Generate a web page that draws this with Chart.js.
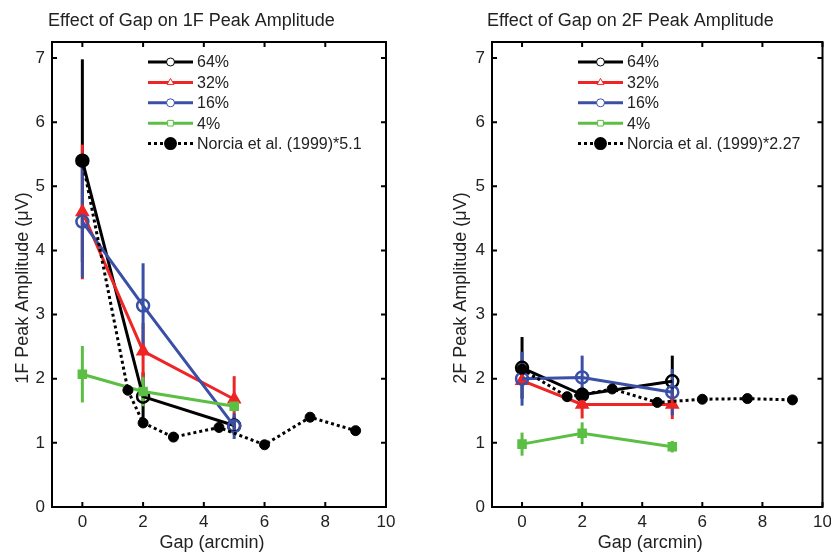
<!DOCTYPE html>
<html lang="en">
<head>
<meta charset="UTF-8">
<title>Effect of Gap on Peak Amplitude</title>
<script src="https://cdn.jsdelivr.net/npm/chart.js"></script>
<style>
  body { margin: 0; background: #fff; }
  .panel { position: absolute; top: 0; height: 553px; }
  #left { left: 0; width: 420px; }
  #right { left: 420px; width: 411px; }
</style>
</head>
<body>
<div class="panel" id="left"><canvas id="chart1F"></canvas></div>
<div class="panel" id="right"><canvas id="chart2F"></canvas></div>

<script>
// gap values (arcmin)
const gap = [0, 2, 5];
const norciaGap = [0, 1.5, 2, 3, 4.5, 6, 7.5, 9];
const xTicks = [0, 2, 4, 6, 8, 10];
const yTicks = [0, 1, 2, 3, 4, 5, 6, 7];
const seriesNames = ['64%', '32%', '16%', '4%'];

// 1F peak amplitude (uV) and error bar half-lengths
const amp1F_64 = [5.40, 1.72, 1.27];
const err1F_64 = [1.58, 0.38, 0.14];
const amp1F_32 = [4.60, 2.43, 1.68];
const err1F_32 = [1.05, 0.44, 0.36];
const amp1F_16 = [4.45, 3.14, 1.26];
const err1F_16 = [0.88, 0.66, 0.20];
const amp1F_4 = [2.07, 1.80, 1.57];
const err1F_4 = [0.44, 0.23, 0.08];
const norcia1F = [5.40, 1.82, 1.31, 1.09, 1.24, 0.97, 1.40, 1.19];

// 2F peak amplitude (uV)
const amp2F_64 = [2.17, 1.75, 1.96];
const err2F_64 = [0.48, 0.12, 0.40];
const amp2F_32 = [1.97, 1.60, 1.60];
const err2F_32 = [0.08, 0.22, 0.23];
const amp2F_16 = [2.00, 2.02, 1.79];
const err2F_16 = [0.42, 0.34, 0.36];
const amp2F_4 = [0.98, 1.15, 0.94];
const err2F_4 = [0.18, 0.17, 0.09];
const norcia2F = [2.15, 1.72, 1.75, 1.84, 1.63, 1.68, 1.69, 1.67];

const colors = ['#000000', '#ee2524', '#3a4fa6', '#5bbf43'];
const styles = ['circle', 'triangle', 'circle', 'rect'];
const FONT = 'Liberation Sans, Arial, sans-serif';
const TEXT = '#222';

function pts(xs, ys) { return xs.map((x, i) => ({x: x, y: ys[i]})); }

function makeSeries(amps, errs) {
  return amps.map((a, k) => ({
    label: seriesNames[k],
    data: pts(gap, a),
    errs: errs[k],
    borderColor: colors[k],
    backgroundColor: (styles[k] === 'circle') ? 'rgba(255,255,255,0)' : colors[k],
    borderWidth: 3,
    pointStyle: styles[k],
    pointRadius: styles[k] === 'rect' ? 5 : 6,
    pointBorderWidth: 2.5,
    order: 4 - k
  }));
}

// frame, inward ticks, error bars, legend, titles
const decor = {
  id: 'decor',
  beforeDatasetsDraw(chart) {
    const ctx = chart.ctx, xs = chart.scales.x, ys = chart.scales.y;
    ctx.save();
    ctx.lineWidth = 3;
    chart.data.datasets.forEach(ds => {
      if (!ds.errs) return;
      ctx.strokeStyle = ds.borderColor;
      ds.data.forEach((p, i) => {
        const px = xs.getPixelForValue(p.x);
        ctx.beginPath();
        ctx.moveTo(px, ys.getPixelForValue(p.y - ds.errs[i]));
        ctx.lineTo(px, ys.getPixelForValue(p.y + ds.errs[i]));
        ctx.stroke();
      });
    });
    ctx.restore();
  },
  afterDraw(chart, args, opts) {
    const ctx = chart.ctx, a = chart.chartArea, xs = chart.scales.x, ys = chart.scales.y;
    ctx.save();
    ctx.strokeStyle = '#000';
    ctx.lineWidth = 2;
    ctx.strokeRect(a.left, a.top, a.right - a.left, a.bottom - a.top);
    ctx.beginPath();
    xTicks.forEach(v => {
      const px = xs.getPixelForValue(v);
      ctx.moveTo(px, a.bottom); ctx.lineTo(px, a.bottom - 5);
      ctx.moveTo(px, a.top); ctx.lineTo(px, a.top + 5);
    });
    yTicks.forEach(v => {
      const py = ys.getPixelForValue(v);
      ctx.moveTo(a.left, py); ctx.lineTo(a.left + 5, py);
      ctx.moveTo(a.right, py); ctx.lineTo(a.right - 5, py);
    });
    ctx.stroke();

    // title
    ctx.fillStyle = TEXT;
    ctx.font = '18px ' + FONT;
    ctx.textBaseline = 'alphabetic';
    ctx.textAlign = 'left';
    ctx.fillText(opts.title, opts.titleX, 26);

    // axis titles
    ctx.textAlign = 'center';
    ctx.textBaseline = 'middle';
    ctx.fillText('Gap (arcmin)', (a.left + a.right) / 2 - 7, 543);
    ctx.save();
    ctx.translate(opts.yTitleX, 288);
    ctx.rotate(-Math.PI / 2);
    ctx.fillText(opts.yTitle, 0, 0);
    ctx.restore();

    // legend
    const lx = a.left + opts.legendOffset, w = 45;
    ctx.font = '16px ' + FONT;
    ctx.textAlign = 'left';
    ctx.textBaseline = 'middle';
    chart.data.datasets.forEach((ds, i) => {
      const y = a.top + 20 + i * 20.4;
      ctx.strokeStyle = ds.borderColor;
      ctx.lineWidth = 3;
      ctx.setLineDash(ds.borderDash || []);
      ctx.beginPath(); ctx.moveTo(lx, y); ctx.lineTo(lx + w, y); ctx.stroke();
      ctx.setLineDash([]);
      if (ds.errs) {
        ctx.fillStyle = '#fff';
        ctx.lineWidth = 1;
        Chart.helpers.drawPoint(ctx, {pointStyle: ds.pointStyle, radius: 4, rotation: 0, borderWidth: 1}, lx + w / 2, y);
      } else {
        ctx.fillStyle = '#000';
        Chart.helpers.drawPoint(ctx, {pointStyle: 'circle', radius: 5, rotation: 0, borderWidth: 1}, lx + w / 2, y);
      }
      ctx.fillStyle = TEXT;
      ctx.fillText(ds.label, lx + w + 4, y + 1);
    });
    ctx.restore();
  }
};

function makeChart(id, amps, errs, norcia, factor, yTitle, title, titleX, yAxisW, yTitleX, rightPad, legendOffset) {
  const datasets = makeSeries(amps, errs);
  datasets.push({
    label: 'Norcia et al. (1999)*' + factor,
    data: pts(norciaGap, norcia),
    borderColor: '#000',
    backgroundColor: '#000',
    borderWidth: 3,
    borderDash: [3, 3],
    pointStyle: 'circle',
    pointRadius: 5,
    pointBorderWidth: 1,
    order: 0
  });
  return new Chart(document.getElementById(id), {
    type: 'line',
    data: { datasets: datasets },
    plugins: [decor],
    options: {
      responsive: true,
      maintainAspectRatio: false,
      animation: false,
      layout: { padding: { top: 42, right: rightPad, left: 0, bottom: 0 } },
      plugins: {
        legend: { display: false },
        tooltip: { enabled: false },
        decor: { title: title, titleX: titleX, yTitle: yTitle, yTitleX: yTitleX, legendOffset: legendOffset }
      },
      scales: {
        x: {
          type: 'linear', min: -1, max: 10,
          grid: { display: false, drawTicks: false },
          border: { display: false },
          afterBuildTicks: s => { s.ticks = xTicks.map(v => ({value: v})); },
          afterFit: s => { s.height = 46; s.paddingLeft = 0; s.paddingRight = 0; },
          ticks: { color: TEXT, padding: 5, font: { size: 17, family: FONT } }
        },
        y: {
          type: 'linear', min: 0, max: 7.25,
          grid: { display: false, drawTicks: false },
          border: { display: false },
          afterBuildTicks: s => { s.ticks = yTicks.map(v => ({value: v})); },
          afterFit: s => { s.width = yAxisW; s.paddingTop = 0; s.paddingBottom = 0; },
          ticks: { color: TEXT, padding: 7, font: { size: 17, family: FONT } }
        }
      }
    }
  });
}

makeChart('chart1F', [amp1F_64, amp1F_32, amp1F_16, amp1F_4], [err1F_64, err1F_32, err1F_16, err1F_4],
  norcia1F, '5.1', '1F Peak Amplitude (\u03bcV)', 'Effect of Gap on 1F Peak Amplitude', 48, 52, 23, 34, 96);
makeChart('chart2F', [amp2F_64, amp2F_32, amp2F_16, amp2F_4], [err2F_64, err2F_32, err2F_16, err2F_4],
  norcia2F, '2.27', '2F Peak Amplitude (\u03bcV)', 'Effect of Gap on 2F Peak Amplitude', 67, 72, 41, 6, 86);
</script>
</body>
</html>
